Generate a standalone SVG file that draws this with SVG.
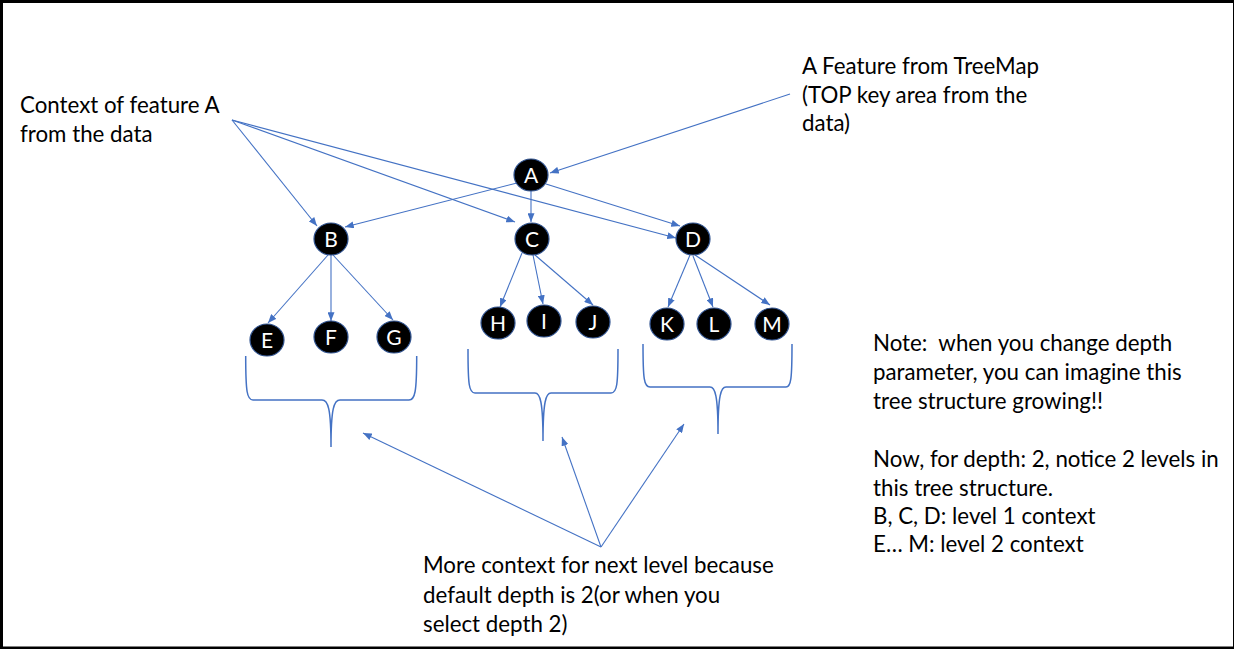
<svg xmlns="http://www.w3.org/2000/svg" width="1234" height="649" viewBox="0 0 1234 649">
<defs>
<marker id="arr" viewBox="0 0 10 8" refX="10" refY="4" markerWidth="9" markerHeight="7" markerUnits="userSpaceOnUse" orient="auto">
<path d="M0,0 L10,4 L0,8 Z" fill="#4472C4"/>
</marker>
<style>
.edge{stroke:#4472C4;stroke-width:1.1;fill:none;marker-end:url(#arr)}
.brace{stroke:#4472C4;stroke-width:1.5;fill:none}
.node ellipse{fill:#000;stroke:#2F528F;stroke-width:1.2}
.node text{fill:#fff;font-family:Lato,"Open Sans",sans-serif;font-size:21px;text-anchor:middle}
.lbl{fill:#000;font-family:Lato,"Liberation Sans",sans-serif;font-size:22.3px;white-space:pre}
</style>
</defs>
<rect x="0" y="0" width="1234" height="649" fill="#000"/>
<rect x="3" y="3" width="1230" height="643.5" fill="#fff"/>

<g id="connectors">
<path class="edge" d="M232,120 L317,226"/>
<path class="edge" d="M232,120 L515,222"/>
<path class="edge" d="M232,120 L676,238"/>
<path class="edge" d="M790,94 L550,173"/>
<path class="edge" d="M517,183 L345,227"/>
<path class="edge" d="M531,191 L531,222"/>
<path class="edge" d="M546,184 L680,226"/>
<path class="edge" d="M328,255 L268,323"/>
<path class="edge" d="M331,255 L331,321"/>
<path class="edge" d="M333,255 L393,320"/>
<path class="edge" d="M522,253 L500,307"/>
<path class="edge" d="M533,255 L543,304"/>
<path class="edge" d="M535,255 L593,305"/>
<path class="edge" d="M690,255 L668,307"/>
<path class="edge" d="M693,256 L713,307"/>
<path class="edge" d="M695,255 L770,305"/>
<path class="edge" d="M601,547 L363,433"/>
<path class="edge" d="M601,547 L562,437"/>
<path class="edge" d="M601,547 L684,424"/>
</g>

<g id="braces">
<path class="brace" d="M245.7,356 C245.7,392 247,400 253,400 L322,400 C328,400 331,408 331,447 C331,408 334,400 340,400 L409,400 C415,400 416.7,392 416.7,356"/>
<path class="brace" d="M468,349 C468,385 469,393 475,393 L535,393 C540,393 543,401 543,441 C543,401 546,393 551,393 L611,393 C617,393 618,385 618,349"/>
<path class="brace" d="M643,344 C643,379 644,387 650,387 L710,387 C715,387 718,395 718,434 C718,395 721,387 726,387 L786,387 C791,387 792,379 792,344"/>
</g>

<g id="node-A" class="node"><ellipse cx="531" cy="175" rx="17" ry="16"/><text x="531" y="182.5">A</text></g>
<g id="node-B" class="node"><ellipse cx="331" cy="239" rx="17" ry="16"/><text x="331" y="246.5">B</text></g>
<g id="node-C" class="node"><ellipse cx="532" cy="239" rx="17" ry="16"/><text x="532" y="246.5">C</text></g>
<g id="node-D" class="node"><ellipse cx="693" cy="239" rx="17" ry="16"/><text x="693" y="246.5">D</text></g>
<g id="node-E" class="node"><ellipse cx="267" cy="340" rx="17" ry="16"/><text x="267" y="347.5">E</text></g>
<g id="node-F" class="node"><ellipse cx="331" cy="337" rx="17" ry="16"/><text x="331" y="344.5">F</text></g>
<g id="node-G" class="node"><ellipse cx="394" cy="337" rx="17" ry="16"/><text x="394" y="344.5">G</text></g>
<g id="node-H" class="node"><ellipse cx="498" cy="323" rx="17" ry="16"/><text x="498" y="330.5">H</text></g>
<g id="node-I" class="node"><ellipse cx="544" cy="321" rx="17" ry="16"/><text x="544" y="328.5">I</text></g>
<g id="node-J" class="node"><ellipse cx="593" cy="322" rx="17" ry="16"/><text x="593" y="329.5">J</text></g>
<g id="node-K" class="node"><ellipse cx="667" cy="324" rx="17" ry="16"/><text x="667" y="331.5">K</text></g>
<g id="node-L" class="node"><ellipse cx="714" cy="324" rx="17" ry="16"/><text x="714" y="331.5">L</text></g>
<g id="node-M" class="node"><ellipse cx="772" cy="324" rx="17" ry="16"/><text x="772" y="331.5">M</text></g>

<g id="label-context">
<text class="lbl" x="20" y="113">Context of feature A</text>
<text class="lbl" x="20" y="142">from the data</text>
</g>
<g id="label-treemap">
<text class="lbl" x="802" y="74">A Feature from TreeMap</text>
<text class="lbl" x="802" y="103">(TOP key area from the</text>
<text class="lbl" x="802" y="131">data)</text>
</g>
<g id="label-note">
<text class="lbl" x="873" y="351" xml:space="preserve">Note:  when you change depth</text>
<text class="lbl" x="873" y="380">parameter, you can imagine this</text>
<text class="lbl" x="873" y="409">tree structure growing!!</text>
<text class="lbl" x="873" y="467">Now, for depth: 2, notice 2 levels in</text>
<text class="lbl" x="873" y="496">this tree structure.</text>
<text class="lbl" x="873" y="524">B, C, D: level 1 context</text>
<text class="lbl" x="873" y="552">E… M: level 2 context</text>
</g>
<g id="label-more">
<text class="lbl" x="423" y="573">More context for next level because</text>
<text class="lbl" x="423" y="603">default depth is 2(or when you</text>
<text class="lbl" x="423" y="632">select depth 2)</text>
</g>
</svg>
